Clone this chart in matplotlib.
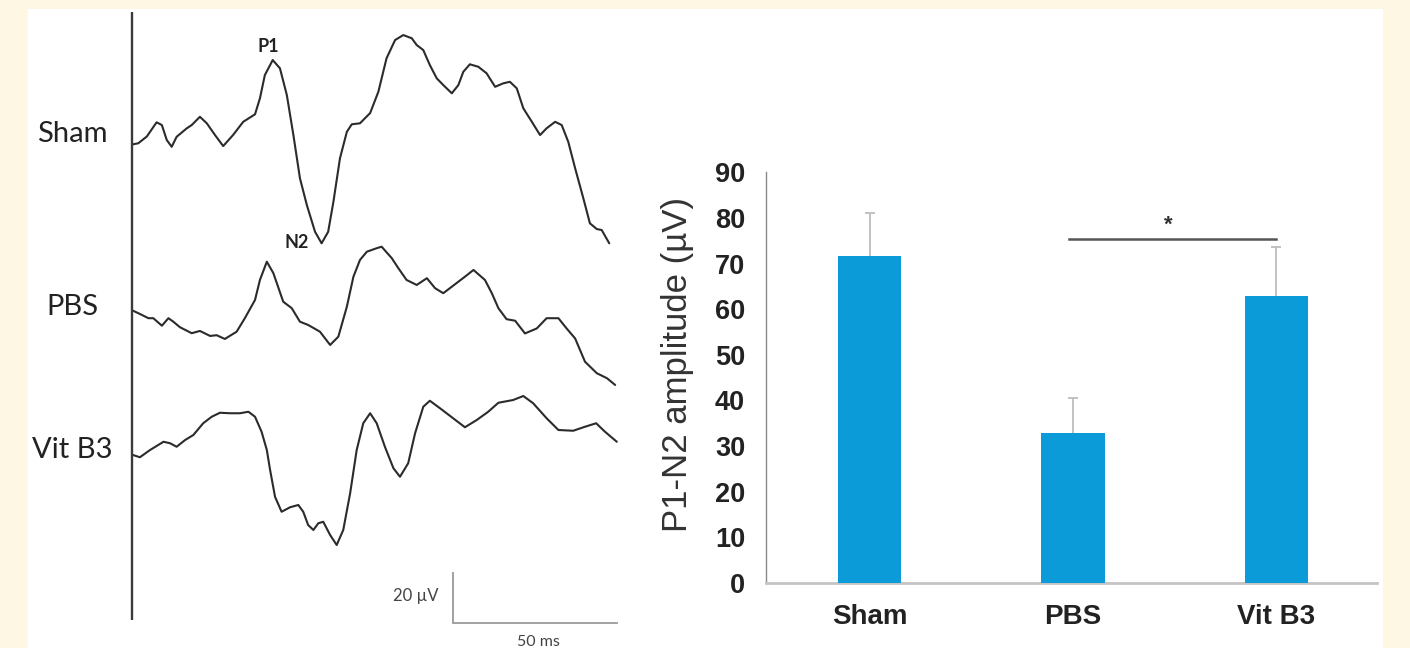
import matplotlib
matplotlib.use("Agg")
import matplotlib.pyplot as plt
from matplotlib.patches import Rectangle
import numpy as np

# ---------------- data ----------------
groups = ["Sham", "PBS", "Vit B3"]

# VEP traces: time (ms) and amplitude (µV) relative to trace start
sham_t = [0.0, 1.6, 4.2, 7.2, 8.8, 10.3, 11.8, 13.3, 16.4, 17.9, 20.4, 22.5, 25.0, 27.5, 30.5, 33.6,
          37.2, 38.7, 40.2, 42.6, 44.8, 46.9, 48.9, 50.9, 53.0, 55.5, 57.5, 59.5, 61.1, 63.1, 65.2,
          66.7, 69.2, 72.3, 74.8, 77.3, 79.9, 82.4, 85.0, 86.5, 88.5, 90.5, 92.6, 94.6, 97.2, 99.2,
          100.7, 102.7, 105.3, 107.8, 110.4, 112.9, 114.9, 117.0, 119.0, 121.6, 124.1, 126.1, 128.7,
          130.7, 132.7, 134.8, 137.3, 139.3, 141.4, 142.9, 145.2]
sham_v = [0.0, 0.4, 3.1, 8.8, 7.7, 1.7, -1.0, 3.0, 6.4, 7.7, 11.0, 8.4, 3.7, -0.7, 3.7, 9.0,
          12.0, 18.4, 27.7, 33.7, 30.4, 19.7, 3.7, -13.6, -24.3, -35.0, -39.6, -35.0, -23.0, -5.6, 5.0,
          8.0, 8.4, 12.5, 21.0, 34.4, 41.7, 43.7, 42.4, 39.7, 37.7, 31.7, 26.4, 23.7, 20.4, 23.7,
          29.0, 32.0, 31.0, 28.4, 23.0, 24.4, 25.0, 22.4, 14.4, 9.0, 3.7, 6.4, 9.0,
          7.7, 1.0, -9.6, -21.6, -31.6, -33.9, -34.3, -39.6]

pbs_t = [0.0, 2.1, 4.7, 6.2, 8.8, 10.8, 12.3, 14.3, 17.9, 20.4, 23.5, 25.5, 28.0, 31.6, 34.1, 37.2,
         38.7, 40.8, 42.8, 45.8, 48.4, 50.9, 53.4, 57.0, 60.1, 62.6, 65.2, 67.2, 69.2, 71.3, 74.3,
         75.8, 78.9, 80.9, 83.4, 86.5, 89.6, 92.1, 94.6, 97.2, 99.2, 101.2, 103.8, 107.3, 109.4,
         111.4, 113.9, 116.5, 119.5, 123.1, 126.1, 129.7, 132.2, 134.8, 137.8, 141.4, 144.5, 147.0]
pbs_v = [0.0, -1.3, -3.0, -3.0, -6.0, -3.0, -4.4, -6.6, -9.0, -8.1, -10.1, -9.8, -11.3, -8.4, -3.0, 4.3,
         12.3, 19.6, 15.0, 3.6, 1.0, -4.4, -5.7, -8.4, -13.7, -10.4, 1.6, 13.6, 20.3, 23.6, 25.0,
         25.6, 21.0, 17.0, 12.3, 10.3, 13.0, 9.0, 7.0, 9.6, 11.6, 13.6, 16.3, 12.3, 7.0,
         1.0, -3.4, -4.0, -9.1, -7.1, -3.0, -3.0, -7.1, -11.1, -20.4, -25.0, -27.0, -29.7]

vit_t = [0.0, 2.1, 5.2, 9.3, 11.3, 13.3, 15.9, 18.4, 21.4, 24.0, 26.5, 29.6, 32.6, 35.2, 37.2, 39.2,
         40.8, 41.8, 43.3, 45.3, 47.9, 50.4, 51.9, 53.4, 55.0, 56.5, 58.0, 60.1, 62.1, 64.1, 66.2,
         68.2, 70.2, 72.3, 74.3, 76.8, 79.4, 81.4, 83.9, 86.0, 88.5, 90.5, 93.6, 97.6, 101.2, 104.8,
         108.3, 111.4, 115.9, 119.0, 122.0, 126.1, 129.7, 134.2, 137.8, 141.2, 143.9, 147.5]
vit_v = [0.0, -0.9, 2.0, 5.3, 4.7, 3.3, 6.0, 8.0, 12.7, 15.3, 16.9, 16.7, 16.7, 17.3, 15.3, 9.3,
         2.0, -6.0, -16.7, -22.7, -20.9, -20.0, -22.7, -28.0, -30.0, -27.3, -26.7, -32.0, -36.0, -30.0, -15.3,
         2.0, 12.7, 16.7, 12.7, 3.3, -5.3, -8.7, -3.3, 8.7, 19.3, 21.7, 18.7, 14.7, 11.1, 14.0,
         17.3, 20.9, 22.0, 23.6, 20.7, 14.7, 10.0, 9.7, 11.3, 12.7, 9.3, 5.3]

# bar chart: P1-N2 amplitude (µV)
means = [71.7, 32.9, 62.9]
sems = [9.4, 7.6, 10.7]
y_ticks = [0, 10, 20, 30, 40, 50, 60, 70, 80, 90]
sig_pair = (1, 2)
sig_level = 75.3
sig_text = "*"

scale_ms = 50
scale_uv = 20

# ---------------- style ----------------
cream = "#fef7e3"
bar_color = "#0a9bd8"
trace_color = "#2b2b2b"

W, H = 1410, 648
fig = plt.figure(figsize=(W / 100, H / 100), dpi=100, facecolor=cream)
bg = fig.add_axes([0, 0, 1, 1], zorder=-10)
bg.set_xlim(0, W)
bg.set_ylim(H, 0)
bg.axis("off")
bg.add_patch(Rectangle((28, 9), 1383 - 28, H - 9, facecolor="white", edgecolor="none"))

# ---------------- left: VEP traces ----------------
px_ms = 3.28   # pixels per ms
px_uv = 2.5    # pixels per µV
t0, t1 = -2.0, 152.5
x_left_px = 133 - 2.0 * px_ms
axT = fig.add_axes([x_left_px / W, 0, (t1 - t0) * px_ms / W, (H - 10) / H], zorder=2)
axT.set_xlim(t0, t1)
axT.set_ylim(0, (H - 10) / px_uv)
axT.axis("off")
axT.patch.set_visible(False)

offsets = {"Sham": (H - 144.3) / px_uv, "PBS": (H - 310.7) / px_uv, "Vit B3": (H - 455) / px_uv}
traces = {"Sham": (sham_t, sham_v), "PBS": (pbs_t, pbs_v), "Vit B3": (vit_t, vit_v)}
for g in groups:
    t, v = traces[g]
    axT.plot(t, np.array(v) + offsets[g], color=trace_color, lw=1.5,
             solid_joinstyle="round", solid_capstyle="round", clip_on=False)

# vertical reference line
axT.plot([-0.3, -0.3], [(H - 620) / px_uv, (H - 12) / px_uv], color="#3a3a3a", lw=1.7,
         solid_capstyle="butt", clip_on=False)

# group labels
label_y = {"Sham": 134, "PBS": 307, "Vit B3": 450}
for g in groups:
    fig.text(72 / W, 1 - label_y[g] / H, g, ha="center", va="center",
             fontsize=21, family=["Lato", "DejaVu Sans"], color="#222222")

# P1 / N2 labels
fig.text(268 / W, 1 - 47 / H, "P1", ha="center", va="center", fontsize=13,
         fontweight="bold", family=["Lato", "DejaVu Sans"], color="#222222")
fig.text(297 / W, 1 - 242 / H, "N2", ha="center", va="center", fontsize=13,
         fontweight="bold", family=["Lato", "DejaVu Sans"], color="#222222")

# scale bar
sb_t0 = (453 - 133) / px_ms
sb_v0 = (H - 623) / px_uv
axT.plot([sb_t0, sb_t0, sb_t0 + scale_ms], [sb_v0 + scale_uv, sb_v0, sb_v0],
         color="#9a9a9a", lw=1.3, solid_joinstyle="miter", clip_on=False)
axT.text(sb_t0 - 4.5, sb_v0 + scale_uv * 0.55, f"{scale_uv} µV", ha="right", va="center",
         fontsize=12, family=["Lato", "DejaVu Sans"], color="#444444")
axT.text(sb_t0 + scale_ms * 0.52, sb_v0 - 7.6, f"{scale_ms} ms", ha="center", va="center",
         fontsize=11.5, family=["Lato", "DejaVu Sans"], color="#444444")

# ---------------- right: bar chart ----------------
ax = fig.add_axes([766 / W, 1 - 583 / H, (1377 - 766) / W, (583 - 172.3) / H], zorder=2)
ax.patch.set_visible(False)
x = np.arange(len(groups))
ax.bar(x, means, width=0.31, color=bar_color, zorder=3)
ax.vlines(x, means, np.array(means) + np.array(sems), color="#bdbdbd", lw=1.3, zorder=2)
ax.plot(x, np.array(means) + np.array(sems), linestyle="none", marker="_", ms=7,
        mew=1.3, color="#bdbdbd", zorder=2)

ax.plot([sig_pair[0] - 0.02, sig_pair[1]], [sig_level, sig_level], color="#555555", lw=1.8)
ax.text((sig_pair[0] + sig_pair[1]) / 2 - 0.03, sig_level + 0.8, sig_text, ha="center",
        va="bottom", fontsize=16, fontweight="bold", family="Liberation Sans", color="#333333")

ax.set_xlim(-0.509, 2.494)
ax.set_ylim(0, 90)
ax.set_yticks(y_ticks)
ax.set_xticks(x)
ax.set_xticklabels(groups)
for s in ("top", "right"):
    ax.spines[s].set_visible(False)
ax.spines["left"].set_color("#8a8a8a")
ax.spines["left"].set_linewidth(1.0)
ax.spines["bottom"].set_color("#c4c4c4")
ax.spines["bottom"].set_linewidth(2.0)
ax.tick_params(axis="both", length=0)
ax.tick_params(axis="y", pad=15)
ax.tick_params(axis="x", pad=15)
for lab in ax.get_yticklabels():
    lab.set_fontfamily("Liberation Sans")
    lab.set_fontweight("bold")
    lab.set_fontsize(19.5)
    lab.set_color("#222222")
for lab in ax.get_xticklabels():
    lab.set_fontfamily("Liberation Sans")
    lab.set_fontweight("bold")
    lab.set_fontsize(20)
    lab.set_color("#222222")

fig.text(678 / W, 1 - 365 / H, "P1-N2 amplitude (µV)", rotation=90, ha="center", va="center",
         fontsize=25, family="Liberation Sans", color="#333333")

fig.savefig("out.png", dpi=100, facecolor=cream)
